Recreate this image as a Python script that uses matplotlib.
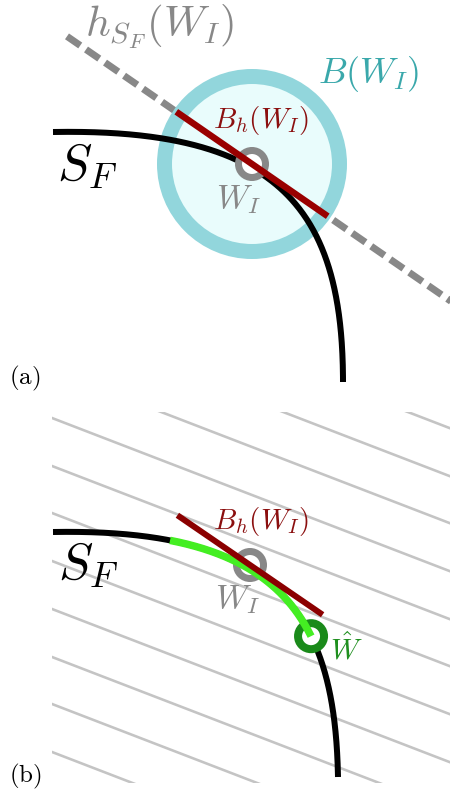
import numpy as np
import matplotlib
matplotlib.use("Agg")
import matplotlib.pyplot as plt
from matplotlib.patches import Circle, Rectangle
from matplotlib.bezier import BezierSegment

plt.rcParams['mathtext.fontset'] = 'cm'

PX = 72 / 100.0  # points per pixel at dpi=100

# ---------------- data (diagram geometry, pixel units) ----------------
front_a = [(53, 132), (275, 128), (343, 205), (343, 382)]   # Pareto front S_F, panel (a)
front_b = [(53, 532), (275, 528), (335, 610), (338, 777)]   # Pareto front S_F, panel (b)
W_I_a = (252, 164)
W_I_b = (250, 565)
slope_a = 0.69
slope_b = 0.685
half_len_a = 92
half_len_b = 88
ball_radius = 87.5
dash_x = [67, 460]
green_t = [0.205, 0.66]            # part of the front inside the half-ball (panel b)
hatch_offsets = [275, 323, 370, 418, 466, 513, 561, 609, 657, 704, 752]
hatch_slope = 0.385
hatch_box = (52, 412, 398, 371)

labels_a = [
    (r'$h_{S_F}(W_I)$', 85, 37, 31, '#888888'),
    (r'$B(W_I)$', 318, 83, 26, '#3aa8ab'),
    (r'$B_h(W_I)$', 213, 128, 21, '#8b0f0f'),
    (r'$S_F$', 57, 180, 37, '#000000'),
    (r'$W_I$', 216, 208, 24, '#888888'),
    (r'$\mathrm{(a)}$', 9, 384, 18, '#000000'),
]
labels_b = [
    (r'$B_h(W_I)$', 213, 529, 21, '#8b0f0f'),
    (r'$S_F$', 58, 579, 37, '#000000'),
    (r'$W_I$', 215, 608, 24, '#888888'),
    (r'$\hat{W}$', 330, 660, 21, '#1f8f1f'),
    (r'$\mathrm{(b)}$', 9, 782, 18, '#000000'),
]

# ---------------- figure ----------------
fig = plt.figure(figsize=(4.5, 7.95), dpi=100)
ax = fig.add_axes([0, 0, 1, 1])
ax.set_xlim(0, 450)
ax.set_ylim(795, 0)
ax.axis('off')

tt = np.linspace(0, 1, 400)

# ----- panel (a) -----
seg_a = BezierSegment(np.array(front_a, dtype=float))
pa = seg_a(tt)

xd = np.array(dash_x, dtype=float)
yd = W_I_a[1] + slope_a * (xd - W_I_a[0])
ax.plot(xd, yd, color='#888888', lw=7 * PX, dashes=(2.3, 1.0),
        dash_capstyle='butt', zorder=1)

ax.add_patch(Circle(W_I_a, ball_radius, facecolor='#e9fcfc',
                    edgecolor='#92d6dc', lw=15 * PX, zorder=2))
ax.plot(pa[:, 0], pa[:, 1], color='black', lw=6 * PX,
        solid_capstyle='butt', zorder=3)
ax.add_patch(Circle(W_I_a, 13.5, facecolor='white', edgecolor='#888888',
                    lw=7 * PX, zorder=4))
u = np.array([1.0, slope_a]) / np.hypot(1.0, slope_a)
p1 = np.array(W_I_a) - half_len_a * u
p2 = np.array(W_I_a) + half_len_a * u
ax.plot([p1[0], p2[0]], [p1[1], p2[1]], color='#990000', lw=6.5 * PX,
        solid_capstyle='butt', zorder=5)

for s, x, y, fs, c in labels_a:
    ax.text(x, y, s, fontsize=fs, color=c, ha='left', va='baseline', zorder=10)

# ----- panel (b) -----
clip = Rectangle(hatch_box[:2], hatch_box[2], hatch_box[3], transform=ax.transData)
for y0 in hatch_offsets:
    xs = np.array([hatch_box[0], hatch_box[0] + hatch_box[2]], dtype=float)
    ys = y0 + hatch_slope * (xs - hatch_box[0])
    ln, = ax.plot(xs, ys, color='#c4c4c4', lw=2.6 * PX, zorder=0)
    ln.set_clip_path(clip)

seg_b = BezierSegment(np.array(front_b, dtype=float))
pb = seg_b(tt)
ax.plot(pb[:, 0], pb[:, 1], color='black', lw=6 * PX,
        solid_capstyle='butt', zorder=3)
ax.add_patch(Circle(W_I_b, 13.5, facecolor='white', edgecolor='#888888',
                    lw=7 * PX, zorder=4))
W_hat = seg_b(np.array([green_t[1]]))[0]
ax.add_patch(Circle(W_hat, 13, facecolor='white', edgecolor='#1a8a1a',
                    lw=8 * PX, zorder=4.5))
tg = np.linspace(green_t[0], green_t[1], 200)
pg = seg_b(tg)
ax.plot(pg[:, 0], pg[:, 1], color='#44ee22', lw=7.5 * PX,
        solid_capstyle='butt', zorder=5)
u = np.array([1.0, slope_b]) / np.hypot(1.0, slope_b)
p1 = np.array(W_I_b) - half_len_b * u
p2 = np.array(W_I_b) + half_len_b * u
ax.plot([p1[0], p2[0]], [p1[1], p2[1]], color='#8b0000', lw=6 * PX,
        solid_capstyle='butt', zorder=6)

for s, x, y, fs, c in labels_b:
    ax.text(x, y, s, fontsize=fs, color=c, ha='left', va='baseline', zorder=10)

fig.savefig('out.png', dpi=100)
